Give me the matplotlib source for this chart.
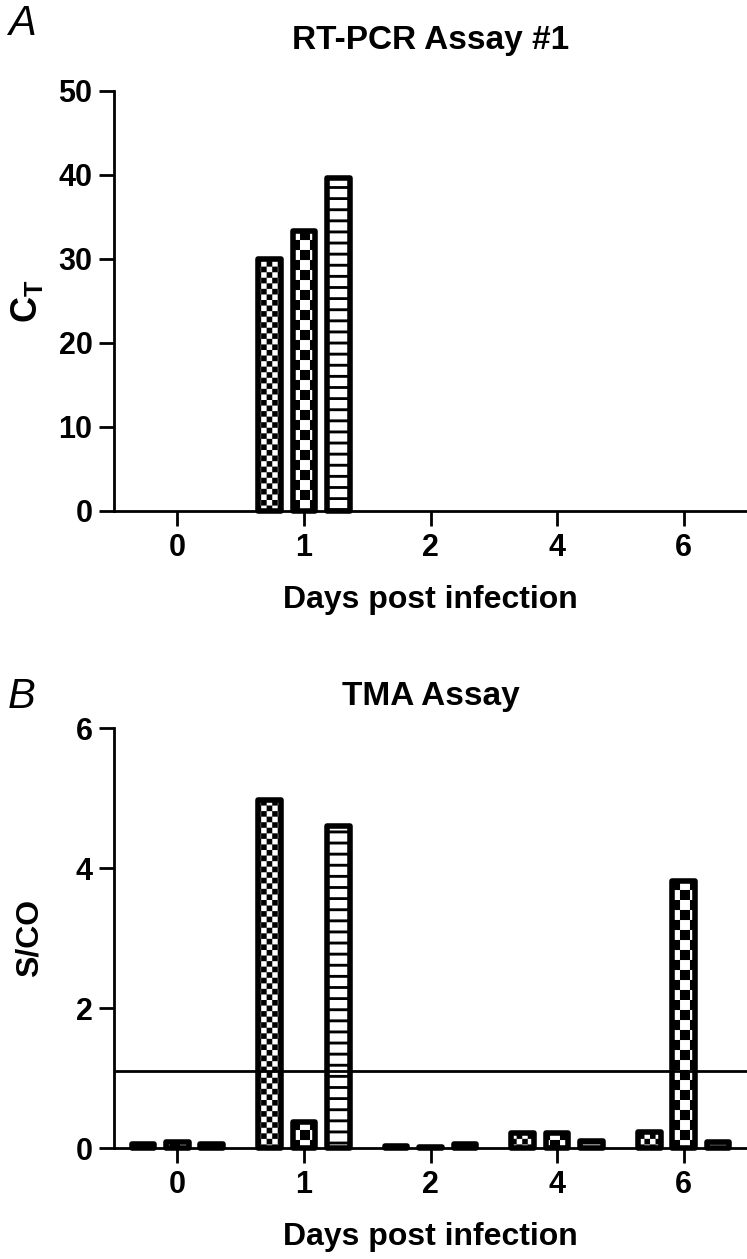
import numpy as np
import matplotlib
matplotlib.use("Agg")
import matplotlib.pyplot as plt
import matplotlib.hatch as mhatch
from matplotlib.path import Path

# ---------------- data ----------------
days = ["0", "1", "2", "4", "6"]

pcr_s1 = [np.nan, 30.0, np.nan, np.nan, np.nan]
pcr_s2 = [np.nan, 33.3, np.nan, np.nan, np.nan]
pcr_s3 = [np.nan, 39.6, np.nan, np.nan, np.nan]

tma_s1 = [0.06, 4.97, 0.03, 0.21, 0.23]
tma_s2 = [0.09, 0.37, 0.01, 0.21, 3.81]
tma_s3 = [0.06, 4.60, 0.06, 0.10, 0.08]
tma_cutoff = 1.1

pcr_yticks = [0, 10, 20, 30, 40, 50]
tma_yticks = [0, 2, 4, 6]

# ---------------- custom hatches (checkerboards / lines) ----------------
class PatternHatch(mhatch.HatchPatternBase):
    # '.' fine checker, 'o' coarse checker, '-' horizontal bars
    def __init__(self, hatch, density):
        self.polys = []
        if '.' in hatch:
            n = 18
        elif 'o' in hatch:
            n = 10
        else:
            n = 0
        if n:
            s = 1.0 / n
            for i in range(n):
                for j in range(n):
                    if (i + j) % 2 == 0:
                        self.polys.append((j * s, i * s, s, s))
        if '-' in hatch:
            m = 9
            t = 0.028
            for i in range(m):
                self.polys.append((-0.01, i / m, 1.02, t))
        self.num_vertices = 5 * len(self.polys)

    def set_vertices_and_codes(self, vertices, codes):
        for k, (x, y, w, h) in enumerate(self.polys):
            vertices[5 * k:5 * k + 5] = [(x, y), (x + w, y), (x + w, y + h),
                                         (x, y + h), (x, y)]
            codes[5 * k:5 * k + 5] = [Path.MOVETO, Path.LINETO, Path.LINETO,
                                      Path.LINETO, Path.CLOSEPOLY]

mhatch._hatch_types = [PatternHatch]

plt.rcParams['font.family'] = ['Liberation Sans', 'DejaVu Sans']
plt.rcParams['font.weight'] = 'bold'
plt.rcParams['hatch.linewidth'] = 0.05
plt.rcParams['hatch.color'] = 'black'
plt.rcParams['mathtext.fontset'] = 'custom'
plt.rcParams['mathtext.bf'] = 'Liberation Sans:bold'
plt.rcParams['mathtext.rm'] = 'Liberation Sans:bold'
plt.rcParams['mathtext.it'] = 'Liberation Sans:bold'

W, H = 747, 1259
fig = plt.figure(figsize=(W / 100, H / 100), dpi=100)

ax_left = 114 / W
ax_w = 1 - ax_left
ax_h = 420 / H
axA = fig.add_axes([ax_left, 1 - 511 / H, ax_w, ax_h])
axB = fig.add_axes([ax_left, 1 - 1148 / H, ax_w, ax_h])

x = np.arange(len(days))
offset = 0.272
bw = 0.178
hatches = ['.', 'o', '-']
edge_lw = 4.0
tick_fs = 22
label_fs = 23

def style(ax, ylim, yticks):
    ax.set_xlim(-0.5, 4.5)
    ax.set_ylim(*ylim)
    ax.set_yticks(yticks)
    ax.set_xticks(x)
    ax.set_xticklabels(days)
    for s in ['top', 'right']:
        ax.spines[s].set_visible(False)
    for s in ['left', 'bottom']:
        ax.spines[s].set_linewidth(2.0)
    ax.tick_params(axis='both', direction='out', length=10.5, width=2.0,
                   labelsize=tick_fs, pad=5)
    ax.set_xlabel("Days post infection", fontsize=label_fs, fontweight='bold',
                  labelpad=16)

def draw_bars(ax, series):
    for k, vals in enumerate(series):
        v = np.asarray(vals, dtype=float)
        m = ~np.isnan(v)
        ax.bar(x[m] + (k - 1) * offset, v[m], width=bw, facecolor='white',
               edgecolor='black', linewidth=edge_lw, hatch=hatches[k],
               joinstyle='round', zorder=3, clip_on=False)

draw_bars(axA, [pcr_s1, pcr_s2, pcr_s3])
style(axA, (0, 50), pcr_yticks)
axA.set_ylabel(r'$\mathbf{C_T}$', fontsize=label_fs + 3, labelpad=10)

draw_bars(axB, [tma_s1, tma_s2, tma_s3])
axB.axhline(tma_cutoff, color='black', lw=2.0, zorder=4)
style(axB, (0, 6), tma_yticks)
axB.set_ylabel("S/CO", fontsize=label_fs, fontweight='bold', labelpad=22)

# titles and panel letters
fig.text((114 + W) / 2 / W, 1 - 40 / H, "RT-PCR Assay #1", ha='center',
         va='center', fontsize=24, fontweight='bold')
fig.text((114 + W) / 2 / W, 1 - 697 / H, "TMA Assay", ha='center',
         va='center', fontsize=24, fontweight='bold')
fig.text(8 / W, 1 - 24 / H, "A", ha='left', va='center', fontsize=30,
         fontstyle='italic', fontweight='normal')
fig.text(8 / W, 1 - 697 / H, "B", ha='left', va='center', fontsize=30,
         fontstyle='italic', fontweight='normal')

fig.savefig("out.png", dpi=100)
